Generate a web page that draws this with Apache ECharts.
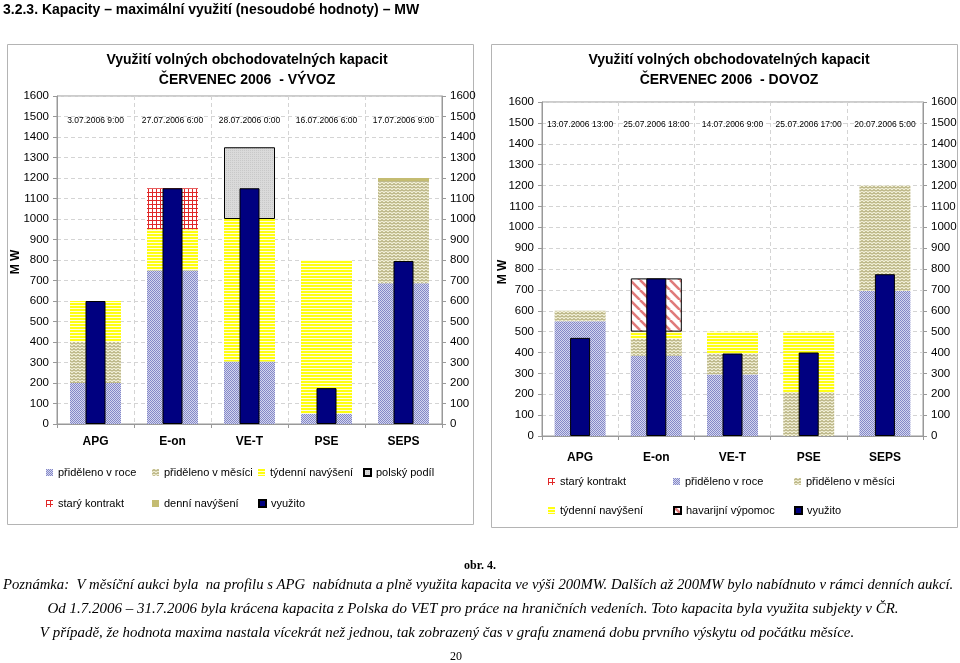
<!DOCTYPE html>
<html>
<head>
<meta charset="utf-8">
<script src="https://cdn.jsdelivr.net/npm/echarts@6/dist/echarts.min.js"></script>
<style>
html,body{margin:0;padding:0;background:#fff;}
#c{width:960px;height:663px;}
</style>
</head>
<body>
<div id="c"></div>
<script>
// ---- data ----
const categories = ['APG', 'E-on', 'VE-T', 'PSE', 'SEPS'];
const exportDates = ['3.07.2006 9:00', '27.07.2006 6:00', '28.07.2006 0:00', '16.07.2006 6:00', '17.07.2006 9:00'];
const importDates = ['13.07.2006 13:00', '25.07.2006 18:00', '14.07.2006 9:00', '25.07.2006 17:00', '20.07.2006 5:00'];

// VÝVOZ (export)
const exRoce    = [200, 750, 305, 50, 687];
const exMesic   = [200, 0, 0, 0, 498];
const exTyden   = [200, 200, 695, 750, 0];
const exPolsky  = [0, 0, 350, 0, 0];
const exStary   = [0, 200, 0, 0, 0];
const exDenni   = [0, 0, 0, 0, 15];
const exVyuzito = [600, 1150, 1150, 175, 795];

// DOVOZ (import)
const imStary   = [0, 0, 0, 0, 0];
const imRoce    = [550, 385, 295, 0, 695];
const imMesic   = [50, 80, 100, 210, 505];
const imTyden   = [0, 35, 105, 290, 0];
const imHavar   = [0, 255, 0, 0, 0];
const imVyuzito = [470, 755, 395, 400, 775];

const yMin = 0, yMax = 1600, yStep = 100;

// ---- patterns ----
function pat(w, h, draw) {
  const c = document.createElement('canvas');
  c.width = w; c.height = h;
  const g = c.getContext('2d');
  draw(g);
  return { image: c, repeat: 'repeat' };
}
const P = {
  roce: pat(2, 2, g => { g.fillStyle = '#d4d6ee'; g.fillRect(0,0,2,2); g.fillStyle = '#8488c8'; g.fillRect(0,0,1,1); g.fillRect(1,1,1,1); }),
  mesic: pat(4, 3, g => { g.fillStyle = '#f0eed6'; g.fillRect(0,0,4,3); g.strokeStyle = '#8e8642'; g.lineWidth = 1; g.beginPath(); g.moveTo(0,2.5); g.lineTo(2,0.5); g.lineTo(4,2.5); g.stroke(); }),
  tyden: pat(4, 3, g => { g.fillStyle = '#ffff10'; g.fillRect(0,0,4,3); g.fillStyle = '#fffce0'; g.fillRect(0,2,4,1); }),
  polsky: pat(2, 2, g => { g.fillStyle = '#dadada'; g.fillRect(0,0,2,2); g.fillStyle = '#c8c8c8'; g.fillRect(0,0,1,1); }),
  stary: pat(4, 4, g => { g.fillStyle = '#ffffff'; g.fillRect(0,0,4,4); g.fillStyle = '#e02828'; g.fillRect(0,0,4,1); g.fillRect(0,0,1,4); }),
  havar: pat(10, 10, g => { g.fillStyle = '#ffffff'; g.fillRect(0,0,10,10); g.strokeStyle = '#e07a7a'; g.lineWidth = 2.6;
    for (let k = -10; k <= 20; k += 10) { g.beginPath(); g.moveTo(k, 0); g.lineTo(k + 10, 10); g.stroke(); } }),
  denni: pat(2, 2, g => { g.fillStyle = '#c4bc72'; g.fillRect(0,0,2,2); })
};

const FONT = 'Liberation Sans';

function nz(arr) { return arr.map(v => v === 0 ? '-' : v); }
function stackBar(name, data, xi, yi, stack, color, border) {
  return {
    type: 'bar', name: name, data: nz(data), xAxisIndex: xi, yAxisIndex: yi, stack: stack,
    barWidth: 51, silent: true,
    itemStyle: border ? { color: color, borderColor: '#000', borderWidth: 1 } : { color: color, borderWidth: 0 }
  };
}
function useBar(data, xi, yi) {
  return {
    type: 'bar', name: 'využito', data: data, xAxisIndex: xi, yAxisIndex: yi, barWidth: 20, z: 4, silent: true,
    itemStyle: { color: '#000080', borderColor: '#000', borderWidth: 1 }
  };
}

function yAx(gi, pos, split) {
  return {
    type: 'value', gridIndex: gi, position: pos, min: yMin, max: yMax, interval: yStep,
    axisLine: { show: true, lineStyle: { color: '#999' } },
    axisTick: { show: true, length: 4, lineStyle: { color: '#999' } },
    axisLabel: { fontSize: 11.5, color: '#000', margin: 8, fontFamily: FONT, formatter: v => String(v) },
    splitLine: { show: split, lineStyle: { color: '#d4d4d4', type: [4, 3] } }
  };
}
function xCat(gi, margin) {
  return {
    type: 'category', gridIndex: gi, data: categories, position: 'bottom',
    axisLine: { lineStyle: { color: '#999' } },
    axisTick: { show: true, length: 4, lineStyle: { color: '#999' } },
    axisLabel: { fontSize: 12, fontWeight: 'bold', color: '#000', margin: margin, fontFamily: FONT },
    splitLine: { show: true, lineStyle: { color: '#d4d4d4', type: [4, 3] } }
  };
}
function xHidden(gi) {
  return { type: 'category', gridIndex: gi, data: categories, show: false };
}
function xDates(gi, dates, margin) {
  return {
    type: 'category', gridIndex: gi, data: dates, position: 'top',
    axisLine: { show: false }, axisTick: { show: false }, splitLine: { show: false },
    axisLabel: { inside: true, margin: margin, fontSize: 8.5, color: '#000', fontFamily: FONT, interval: 0 }
  };
}

function leg(name, x, y) {
  return {
    data: [name], left: x, top: y - 6, padding: 0, itemWidth: 7, itemHeight: 7, icon: 'rect',
    selectedMode: false,
    textStyle: { fontSize: 11, color: '#000', fontFamily: FONT }
  };
}

const option = {
  animation: false,
  textStyle: { fontFamily: FONT },
  grid: [
    { left: 57, top: 96, width: 385, height: 328, show: true, borderColor: '#999', borderWidth: 1 },
    { left: 542, top: 102, width: 381, height: 334, show: true, borderColor: '#999', borderWidth: 1 }
  ],
  xAxis: [xCat(0, 12), xHidden(0), xDates(0, exportDates, 20), xCat(1, 16), xHidden(1), xDates(1, importDates, 18)],
  yAxis: [yAx(0, 'left', true), yAx(0, 'right', false), yAx(1, 'left', true), yAx(1, 'right', false)],
  legend: [
    leg('přiděleno v roce', 46, 473), leg('přiděleno v měsíci', 152, 473), leg('týdenní navýšení', 258, 473), leg('polský podíl', 363, 473),
    leg('starý kontrakt', 46, 504), leg('denní navýšení', 152, 504), leg('využito', 258, 504),
    leg('starý kontrakt', 548, 482), leg('přiděleno v roce', 673, 482), leg('přiděleno v měsíci', 794, 482),
    leg('týdenní navýšení', 548, 511), leg('havarijní výpomoc', 673, 511), leg('využito', 794, 511)
  ],
  series: [
    stackBar('přiděleno v roce', exRoce, 0, 0, 'ex', P.roce),
    stackBar('přiděleno v měsíci', exMesic, 0, 0, 'ex', P.mesic),
    stackBar('týdenní navýšení', exTyden, 0, 0, 'ex', P.tyden),
    stackBar('polský podíl', exPolsky, 0, 0, 'ex', P.polsky, true),
    stackBar('starý kontrakt', exStary, 0, 0, 'ex', P.stary),
    stackBar('denní navýšení', exDenni, 0, 0, 'ex', P.denni),
    useBar(exVyuzito, 1, 0),
    stackBar('starý kontrakt', imStary, 3, 2, 'im', P.stary),
    stackBar('přiděleno v roce', imRoce, 3, 2, 'im', P.roce),
    stackBar('přiděleno v měsíci', imMesic, 3, 2, 'im', P.mesic),
    stackBar('týdenní navýšení', imTyden, 3, 2, 'im', P.tyden),
    stackBar('havarijní výpomoc', imHavar, 3, 2, 'im', P.havar, true),
    useBar(imVyuzito, 4, 2)
  ],
  graphic: [
    { type: 'text', left: 3, top: 3, style: { text: '3.2.3. Kapacity – maximální využití (nesoudobé hodnoty) – MW', font: 'bold 14px "Liberation Sans"', fill: '#000' } },
    { type: 'rect', shape: { x: 7.5, y: 44.5, width: 466, height: 480 }, style: { fill: 'none', stroke: '#b4b4b4', lineWidth: 1 }, z: -1 },
    { type: 'rect', shape: { x: 491.5, y: 44.5, width: 466, height: 483 }, style: { fill: 'none', stroke: '#b4b4b4', lineWidth: 1 }, z: -1 },
    { type: 'text', x: 247, y: 60, style: { text: 'Využití volných obchodovatelných kapacit', font: 'bold 14px "Liberation Sans"', fill: '#000', textAlign: 'center', textVerticalAlign: 'middle' } },
    { type: 'text', x: 247, y: 80, style: { text: 'ČERVENEC 2006  - VÝVOZ', font: 'bold 14px "Liberation Sans"', fill: '#000', textAlign: 'center', textVerticalAlign: 'middle' } },
    { type: 'text', x: 729, y: 60, style: { text: 'Využití volných obchodovatelných kapacit', font: 'bold 14px "Liberation Sans"', fill: '#000', textAlign: 'center', textVerticalAlign: 'middle' } },
    { type: 'text', x: 729, y: 80, style: { text: 'ČERVENEC 2006  - DOVOZ', font: 'bold 14px "Liberation Sans"', fill: '#000', textAlign: 'center', textVerticalAlign: 'middle' } },
    { type: 'text', x: 16, y: 262, rotation: Math.PI / 2, style: { text: 'M W', font: 'bold 12px "Liberation Sans"', fill: '#000', textAlign: 'center', textVerticalAlign: 'middle' } },
    { type: 'text', x: 503, y: 272, rotation: Math.PI / 2, style: { text: 'M W', font: 'bold 12px "Liberation Sans"', fill: '#000', textAlign: 'center', textVerticalAlign: 'middle' } },
    { type: 'text', x: 480, y: 566, style: { text: 'obr. 4.', font: 'bold 12px "Liberation Serif"', fill: '#000', textAlign: 'center', textVerticalAlign: 'middle' } },
    { type: 'text', x: 3, y: 585, style: { text: 'Poznámka:  V měsíční aukci byla  na profilu s APG  nabídnuta a plně využita kapacita ve výši 200MW. Dalších až 200MW bylo nabídnuto v rámci denních aukcí.', font: 'italic 14.7px "Liberation Serif"', fill: '#000', textAlign: 'left', textVerticalAlign: 'middle' } },
    { type: 'text', x: 473, y: 609, style: { text: 'Od 1.7.2006 – 31.7.2006 byla krácena kapacita z Polska do VET pro práce na hraničních vedeních. Toto kapacita byla využita subjekty v ČR.', font: 'italic 15px "Liberation Serif"', fill: '#000', textAlign: 'center', textVerticalAlign: 'middle' } },
    { type: 'text', x: 447, y: 633, style: { text: 'V případě, že hodnota maxima nastala vícekrát než jednou, tak zobrazený čas v grafu znamená dobu prvního výskytu od počátku měsíce.', font: 'italic 14.9px "Liberation Serif"', fill: '#000', textAlign: 'center', textVerticalAlign: 'middle' } },
    { type: 'text', x: 456, y: 657, style: { text: '20', font: '12px "Liberation Serif"', fill: '#000', textAlign: 'center', textVerticalAlign: 'middle' } }
  ]
};

const chart = echarts.init(document.getElementById('c'), null, { renderer: 'canvas' });
chart.setOption(option);
</script>
</body>
</html>
